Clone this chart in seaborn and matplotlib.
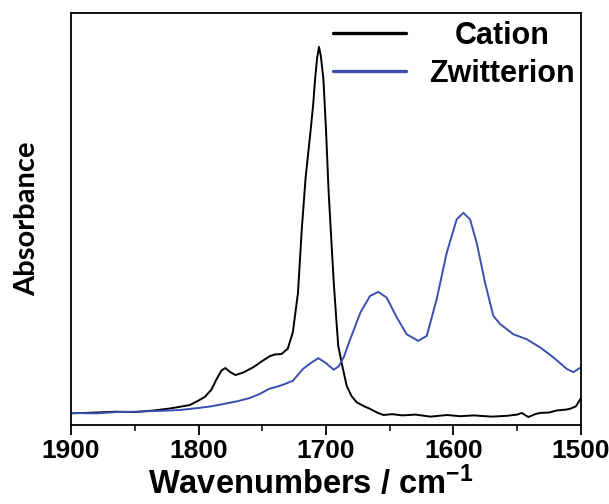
import pandas as pd
import seaborn as sns
import matplotlib.pyplot as plt

# values (absorbance in arbitrary units)
cation_wn = [1900, 1880, 1865, 1850, 1835, 1822, 1807, 1800, 1795, 1790, 1786, 1782, 1779,
             1775, 1771, 1765, 1757, 1750, 1744, 1740, 1735, 1730, 1726, 1722, 1719, 1716,
             1712, 1710, 1708.6, 1707, 1705.5, 1704, 1702, 1700, 1698, 1696.3, 1694, 1692,
             1690.4, 1687, 1683.8, 1680, 1676, 1670, 1665.5, 1660, 1655, 1648, 1640, 1630,
             1618, 1605, 1595, 1584, 1570, 1558, 1550, 1546.5, 1541.3, 1536, 1532, 1525,
             1519, 1512, 1508.6, 1504, 1500]
cation_abs = [0.028, 0.030, 0.032, 0.031, 0.035, 0.040, 0.048, 0.059, 0.068, 0.085, 0.110,
              0.132, 0.138, 0.128, 0.121, 0.127, 0.140, 0.155, 0.167, 0.171, 0.172, 0.185,
              0.225, 0.320, 0.475, 0.600, 0.717, 0.780, 0.838, 0.890, 0.918, 0.895, 0.838,
              0.717, 0.570, 0.475, 0.350, 0.260, 0.192, 0.140, 0.095, 0.070, 0.055, 0.045,
              0.039, 0.030, 0.024, 0.026, 0.023, 0.025, 0.020, 0.024, 0.021, 0.023, 0.020,
              0.022, 0.025, 0.029, 0.019, 0.026, 0.029, 0.030, 0.035, 0.037, 0.039, 0.045,
              0.065]

zwit_wn = [1900, 1880, 1865, 1850, 1830, 1815, 1800, 1790, 1780, 1770, 1760, 1752, 1745,
           1735, 1726, 1718, 1712, 1706, 1700, 1694, 1690, 1686, 1681, 1673, 1665.5, 1659,
           1652.4, 1644.5, 1636.7, 1627.6, 1621, 1613.2, 1605.3, 1597.5, 1592.3, 1587,
           1581.8, 1575.3, 1568.8, 1563.5, 1553, 1542.6, 1532, 1521.7, 1511.2, 1506, 1500]
zwit_abs = [0.029, 0.028, 0.031, 0.032, 0.034, 0.036, 0.041, 0.045, 0.051, 0.057, 0.065,
            0.075, 0.087, 0.096, 0.107, 0.136, 0.150, 0.162, 0.150, 0.134, 0.142, 0.165,
            0.208, 0.273, 0.313, 0.323, 0.309, 0.261, 0.220, 0.204, 0.216, 0.305, 0.418,
            0.499, 0.515, 0.499, 0.442, 0.346, 0.265, 0.245, 0.220, 0.208, 0.188, 0.164,
            0.136, 0.128, 0.140]

labels = ['Cation', 'Zwitterion']
colors = ['black', '#3b4fb0']

df = pd.concat([
    pd.DataFrame({'wn': cation_wn, 'abs': cation_abs, 'sample': labels[0]}),
    pd.DataFrame({'wn': zwit_wn, 'abs': zwit_abs, 'sample': labels[1]}),
])

sns.set_style('ticks')
plt.rcParams['font.family'] = ['Liberation Sans', 'DejaVu Sans']
plt.rcParams['font.weight'] = 'bold'
plt.rcParams['text.color'] = 'black'
plt.rcParams['axes.labelcolor'] = 'black'
plt.rcParams['xtick.color'] = 'black'
plt.rcParams['mathtext.fontset'] = 'custom'
plt.rcParams['mathtext.rm'] = 'Liberation Sans:bold'
plt.rcParams['mathtext.it'] = 'Liberation Sans:bold'

fig = plt.figure(figsize=(6.09, 5.04), dpi=100)
ax = fig.add_axes([0.1166, 0.157, 0.8374, 0.817])

sns.lineplot(data=df, x='wn', y='abs', hue='sample', palette=colors,
             linewidth=1.4, ax=ax, legend=False)

ax.set_xlim(1900, 1500)
ax.set_ylim(0, 1)
ax.set_xticks([1900, 1800, 1700, 1600, 1500])
ax.set_xticks([1850, 1750, 1650, 1550], minor=True)
ax.set_yticks([])
ax.tick_params(axis='x', which='major', length=7, width=1.3, labelsize=19, pad=3)
ax.tick_params(axis='x', which='minor', length=4, width=1.1)
for lab in ax.get_xticklabels():
    lab.set_fontweight('bold')
for sp in ax.spines.values():
    sp.set_linewidth(1.3)
    sp.set_color('black')

ax.set_xlabel(r'Wavenumbers / cm$^{-1}$', fontsize=23.5, fontweight='bold')
ax.xaxis.set_label_coords(0.47, -0.1)
ax.xaxis.label.set_va('top')
ax.set_ylabel('Absorbance', fontsize=21, fontweight='bold', family='Lato', labelpad=22)

handles = [plt.Line2D([], [], color=c, linewidth=2.4) for c in colors]
leg = ax.legend(handles, labels, loc='upper right', frameon=False, fontsize=22,
                handlelength=2.4, handletextpad=0.75, labelspacing=0.25,
                bbox_to_anchor=(1.024, 1.025), borderaxespad=0.2)
for t in leg.get_texts():
    t.set_fontweight('bold')

# centre the legend labels like the original
fig.canvas.draw()
r = fig.canvas.get_renderer()
widths = [t.get_window_extent(r).width for t in leg.get_texts()]
wmax = max(widths)
for t, w in zip(leg.get_texts(), widths):
    t.set_position(((wmax - w) / 2, 0))

fig.savefig('out.png', dpi=100)
